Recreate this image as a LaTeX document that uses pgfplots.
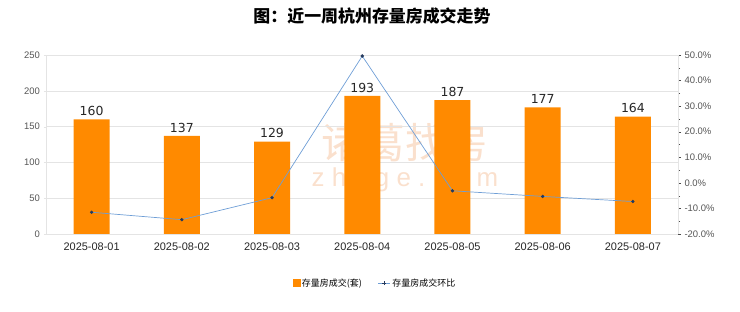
\documentclass[border=0pt]{standalone}
\usepackage{pgfplots}
\pgfplotsset{compat=1.18}
\usepackage{fontspec}
\setmainfont{Liberation Sans}
\newfontfamily\cjk{Noto Sans CJK SC}
\newfontfamily\labelfont{DejaVu Sans}
\definecolor{barorange}{HTML}{FF8A00}
\definecolor{lineblue}{HTML}{6E9ED6}
\definecolor{markdark}{HTML}{253A5E}
\definecolor{gridgray}{HTML}{E4E4E4}
\definecolor{ticktext}{HTML}{555555}
\definecolor{wmark}{HTML}{FAE0CD}

\begin{document}
\begin{tikzpicture}
\path (0,0) rectangle (740bp,312bp);
% watermark behind the plot
\node[text=wmark, font=\cjk\fontsize{42}{42}\selectfont] at (405bp,169bp) {诸葛找房};
\node[text=wmark, font=\fontsize{26}{26}\selectfont] at (405bp,132bp) {z h u g e . c o m};
\node[font=\cjk\bfseries\fontsize{17}{17}\selectfont] at (372bp,296bp) {图：近一周杭州存量房成交走势};
\begin{axis}[
    at={(46.5bp,78bp)}, anchor=south west,
    scale only axis, width=631.5bp, height=179bp,
    xmin=-0.5, xmax=6.5, ymin=0, ymax=250,
    ytick={0,50,...,250},
    xtick={0,...,6},
    xticklabels={2025-08-01,2025-08-02,2025-08-03,2025-08-04,2025-08-05,2025-08-06,2025-08-07},
    ymajorgrids, grid style={gridgray},
    axis line style={gridgray},
    axis x line*=bottom, axis y line*=left,
    tick align=outside, major tick length=3bp,
    tick style={gridgray},
    x tick style={draw=none},
    xticklabel style={font=\fontsize{11}{11}\selectfont, text=black!85, yshift=-2bp},
    yticklabel style={font=\fontsize{9.5}{9.5}\selectfont, text=ticktext},
    /pgf/number format/assume math mode=true,
    ybar, bar width=36bp,
    nodes near coords,
    every node near coord/.append style={font=\labelfont\fontsize{12.5}{12.5}\selectfont, text=black!85},
]
\addplot[fill=barorange, draw=none] coordinates {
  (0,160) (1,137) (2,129) (3,193) (4,187) (5,177) (6,164)
};
\end{axis}
\begin{axis}[
    at={(46.5bp,78bp)}, anchor=south west,
    scale only axis, width=631.5bp, height=179bp,
    xmin=-0.5, xmax=6.5, ymin=-20, ymax=50,
    axis x line=none, axis y line*=right,
    axis line style={gridgray},
    ytick={-20,-10,...,50},
    minor y tick num=1,
    tick align=outside, major tick length=3bp, minor tick length=2bp,
    tick style={black!70},
    yticklabel={\pgfmathprintnumber[fixed,fixed zerofill,precision=1]{\tick}\%},
    yticklabel style={font=\fontsize{9.5}{9.5}\selectfont, text=ticktext},
    /pgf/number format/assume math mode=true,
    legend style={at={(0.52,-0.274)}, anchor=center, draw=none, fill=none,
      font=\cjk\fontsize{9}{9}\selectfont, legend columns=2,
      /tikz/every even column/.append style={column sep=14bp}},
    legend cell align=left,
]
\addlegendimage{legend image code/.code={\fill[barorange] (0bp,-3.5bp) rectangle (7bp,3.5bp);}}
\addlegendentry{存量房成交(套)}
\addplot[lineblue, line width=0.7pt, mark=*, mark size=1.3pt,
  mark options={fill=markdark, draw=markdark},
  legend image code/.code={\draw[lineblue, line width=0.7pt] (0bp,0bp) -- (12bp,0bp);
    \draw[markdark, line width=0.8pt] (4bp,0bp) -- (8bp,0bp) (6bp,-2bp) -- (6bp,2bp);}] coordinates {
  (0,-11.5) (1,-14.4) (2,-5.8) (3,49.6) (4,-3.1) (5,-5.3) (6,-7.3)
};
\addlegendentry{存量房成交环比}
\end{axis}
\end{tikzpicture}
\end{document}
